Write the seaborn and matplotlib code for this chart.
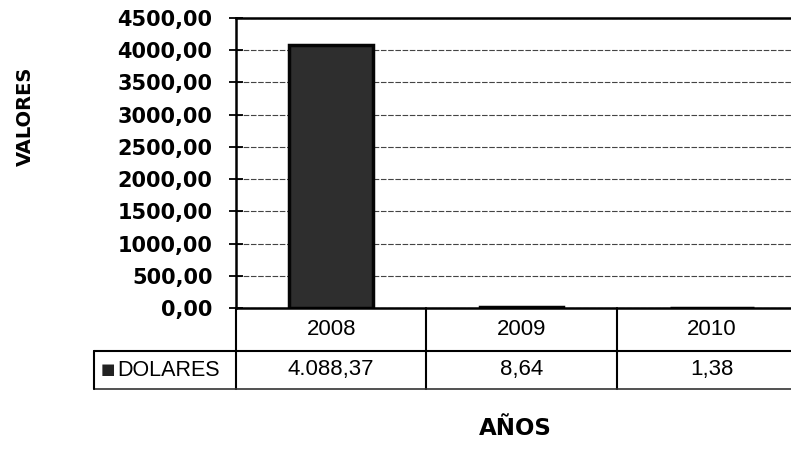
import matplotlib
matplotlib.use("Agg")
import matplotlib.pyplot as plt
import matplotlib.transforms as mtransforms
import seaborn as sns
import pandas as pd

# data
years = ["2008", "2009", "2010"]
dolares = [4088.37, 8.64, 1.38]
series_name = "DOLARES"
y_ticks = [0, 500, 1000, 1500, 2000, 2500, 3000, 3500, 4000, 4500]


def es_fmt(v, thousands=True):
    s = f"{v:,.2f}" if thousands else f"{v:.2f}"
    return s.replace(",", "X").replace(".", ",").replace("X", ".")


sns.set_style("white")
plt.rcParams["font.family"] = ["Liberation Sans", "DejaVu Sans"]
plt.rcParams["text.color"] = "black"
plt.rcParams["ytick.color"] = "black"

df = pd.DataFrame({"year": years, "value": dolares})

W, H = 791, 450
ax_l, ax_r, ax_t, ax_b = 236, 807, 18, 308
fig = plt.figure(figsize=(W / 100, H / 100), dpi=100)
ax = fig.add_axes([ax_l / W, 1 - ax_b / H, (ax_r - ax_l) / W, (ax_b - ax_t) / H])

sns.barplot(data=df, x="year", y="value", color="#2e2e2e", width=0.44,
            edgecolor="#050505", linewidth=2.5, ax=ax, saturation=1)

ax.set_ylim(0, 4500)
ax.set_xlim(-0.5, 2.5)
ax.set_yticks(y_ticks)
ax.set_yticklabels([es_fmt(t, False) for t in y_ticks], fontsize=15, fontweight="bold",
                   family="DejaVu Sans", color="black")
ax.tick_params(axis="y", direction="inout", length=10, width=1.3, color="black", pad=12, left=True)
ax.set_xticks([])
ax.set_xlabel("")
ax.set_ylabel("")
ax.set_axisbelow(True)
ax.yaxis.grid(True, color="#444444", linewidth=0.8, linestyle=(0, (5, 1.5)))
for side in ["left", "top", "bottom"]:
    ax.spines[side].set_visible(True)
    ax.spines[side].set_color("black")
    ax.spines[side].set_linewidth(1.8)
ax.spines["right"].set_visible(False)

# data table under the plot
tr = mtransforms.blended_transform_factory(ax.transData, ax.transAxes)
ph = ax_b - ax_t
r1 = -(351 - ax_b) / ph
r2 = -(389 - ax_b) / ph
head_left = (94 - ax_l) / (ax_r - ax_l)
lc = dict(color="black", lw=1.5, clip_on=False)
for xb in [-0.5, 0.5, 1.5, 2.5]:
    ax.plot([xb, xb], [0, r2], transform=tr, **lc)
ax.plot([-0.5, 2.5], [r1, r1], transform=tr, **lc)
ax.plot([-0.5, 2.5], [r2, r2], transform=tr, color="#333333", lw=1.2, clip_on=False)
ax.plot([head_left, 0], [r1, r1], transform=ax.transAxes, **lc)
ax.plot([head_left, 0], [r2, r2], transform=ax.transAxes, color="#333333", lw=1.2, clip_on=False)
ax.plot([head_left, head_left], [r1, r2], transform=ax.transAxes, **lc)

for i, (yr, v) in enumerate(zip(years, dolares)):
    ax.text(i, r1 / 2, yr, transform=tr, ha="center", va="center", fontsize=16)
    ax.text(i, (r1 + r2) / 2, es_fmt(v), transform=tr, ha="center", va="center", fontsize=16)

ax.text((101 - ax_l) / (ax_r - ax_l), (r1 + r2) / 2, "\u25a0", transform=ax.transAxes,
        ha="left", va="center", fontsize=11, color="#222222", family="DejaVu Sans")
ax.text((117 - ax_l) / (ax_r - ax_l), (r1 + r2) / 2, series_name, transform=ax.transAxes,
        ha="left", va="center", fontsize=15.5)

fig.text(25 / W, 1 - 116 / H, "VALORES", rotation=90, ha="center", va="center",
         fontsize=14, fontweight="bold", family="DejaVu Sans")
fig.text(515 / W, 1 - 435 / H, "AÑOS", ha="center", va="baseline",
         fontsize=16.5, fontweight="bold", family="DejaVu Sans")

fig.savefig("out.png", dpi=100)
